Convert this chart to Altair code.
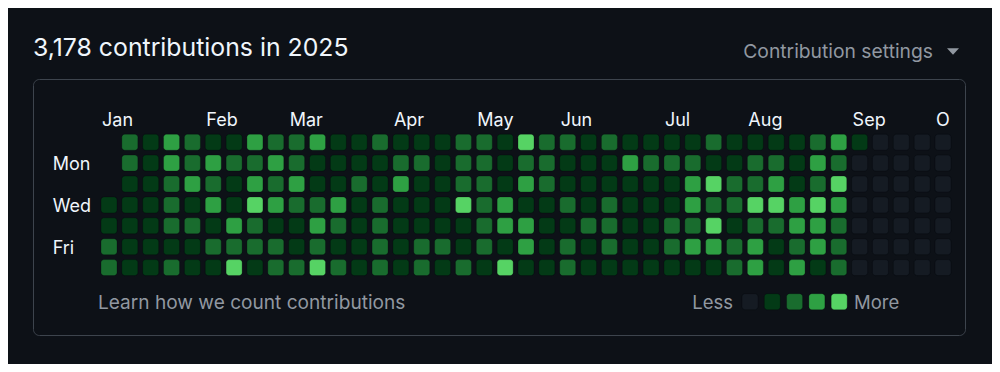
import altair as alt
import pandas as pd

# ---- data -------------------------------------------------------------
# contribution level per week column (0..40) for each weekday row; -1 = no day
SUN = [-1, 2, 1, 3, 2, 1, 1, 3, 2, 2, 3, 1, 1, 2, 1, 1, 1, 2, 2, 1, 4, 2, 2, 1, 2, 1, 1, 1, 1, 2, 1, 1, 1, 1, 2, 3, 1, 0, 0, 0, 0]
MON = [-1, 2, 1, 3, 2, 3, 2, 2, 3, 2, 1, 1, 1, 1, 2, 2, 1, 2, 2, 1, 2, 2, 1, 1, 1, 3, 2, 2, 2, 1, 1, 2, 2, 1, 3, 2, 0, 0, 0, 0, 0]
TUE = [-1, 1, 1, 2, 3, 2, 1, 3, 2, 3, 1, 1, 2, 1, 3, 1, 1, 2, 2, 1, 3, 2, 1, 1, 1, 1, 1, 1, 3, 4, 2, 2, 3, 1, 2, 4, 0, 0, 0, 0, 0]
WED = [1, 1, 1, 2, 1, 3, 1, 4, 3, 2, 2, 3, 1, 2, 1, 1, 1, 4, 2, 3, 1, 1, 2, 1, 2, 1, 1, 1, 3, 2, 2, 4, 4, 3, 4, 3, 0, 0, 0, 0, 0]
THU = [1, 1, 1, 2, 2, 1, 3, 2, 1, 1, 3, 2, 1, 2, 1, 1, 1, 1, 2, 3, 3, 1, 1, 2, 2, 1, 1, 2, 2, 4, 1, 2, 2, 3, 3, 2, 0, 0, 0, 0, 0]
FRI = [2, 1, 1, 1, 1, 2, 2, 2, 2, 1, 2, 1, 1, 2, 1, 2, 2, 1, 2, 1, 3, 1, 2, 1, 2, 1, 1, 2, 3, 3, 2, 3, 1, 2, 3, 2, 0, 0, 0, 0, 0]
SAT = [2, 1, 1, 2, 1, 1, 4, 1, 2, 2, 4, 2, 1, 2, 1, 2, 1, 2, 1, 4, 1, 1, 2, 1, 1, 1, 1, 1, 1, 1, 2, 3, 1, 3, 1, 2, 0, 0, 0, 0, 0]
ROWS = [SUN, MON, TUE, WED, THU, FRI, SAT]

MONTHS = ["Jan", "Feb", "Mar", "Apr", "May", "Jun", "Jul", "Aug", "Sep", "O"]
MONTH_WEEKS = [0, 5, 9, 14, 18, 22, 27, 31, 36, 40]

DAY_LABELS = ["Mon", "Wed", "Fri"]
DAY_INDEX = [1, 3, 5]

LEVELS = [0, 1, 2, 3, 4]

TITLE = "3,178 contributions in 2025"

# ---- styles -----------------------------------------------------------
COLORS = ["#151b23", "#033a16", "#196c2e", "#2ea043", "#56d364"]
BG = "#0d1117"
FG = "#f0f6fc"
MUTED = "#9198a1"
FONT = "Inter"

records = []
for d, row in enumerate(ROWS):
    for w, lv in enumerate(row):
        records.append({"week": w, "day": d, "level": lv})
cells_df = pd.DataFrame(records)

XS = alt.Scale(domain=[-3.645, 41.055], nice=False, zero=False)
YS = alt.Scale(domain=[-3.024, 9.225], nice=False, zero=False, reverse=True)
CS = alt.Scale(domain=LEVELS, range=COLORS)

cells = (
    alt.Chart(cells_df)
    .transform_filter("datum.level >= 0")
    .transform_calculate(
        x1="datum.week - 0.384", x2="datum.week + 0.384",
        y1="datum.day - 0.383", y2="datum.day + 0.383",
    )
    .mark_rect(cornerRadius=3, stroke="#010409", strokeOpacity=0.25, strokeWidth=1)
    .encode(
        x=alt.X("x1:Q", scale=XS, axis=None),
        x2="x2:Q",
        y=alt.Y("y1:Q", scale=YS, axis=None),
        y2="y2:Q",
        color=alt.Color("level:O", scale=CS, legend=None),
    )
)

legend_cells = (
    alt.Chart(pd.DataFrame({"level": LEVELS}))
    .transform_calculate(
        x1="30.743 + datum.level * 1.0695 - 0.384",
        x2="30.743 + datum.level * 1.0695 + 0.384",
        y1="7.632 - 0.383", y2="7.632 + 0.383",
    )
    .mark_rect(cornerRadius=3, stroke="#010409", strokeOpacity=0.25, strokeWidth=1)
    .encode(
        x=alt.X("x1:Q", scale=XS, axis=None),
        x2="x2:Q",
        y=alt.Y("y1:Q", scale=YS, axis=None),
        y2="y2:Q",
        color=alt.Color("level:O", scale=CS, legend=None),
    )
)

month_labels = (
    alt.Chart(pd.DataFrame({"month": MONTHS, "week": MONTH_WEEKS}))
    .mark_text(align="left", baseline="alphabetic", dx=-7, fontSize=18, color=FG, font=FONT)
    .encode(x=alt.X("week:Q", scale=XS, axis=None), y=alt.value(47), text="month:N")
)

day_labels = (
    alt.Chart(pd.DataFrame({"label": DAY_LABELS, "day": DAY_INDEX}))
    .mark_text(align="left", baseline="alphabetic", dy=7, fontSize=18, color=FG, font=FONT)
    .encode(x=alt.value(19.7), y=alt.Y("day:Q", scale=YS, axis=None), text="label:N")
)


def label(text, x, y, align, size, color):
    return (
        alt.Chart(pd.DataFrame({"t": [text]}))
        .mark_text(align=align, baseline="alphabetic", fontSize=size, color=color, font=FONT)
        .encode(x=alt.value(x), y=alt.value(y), text="t:N")
    )


title = label(TITLE, 0, -23, "left", 24.8, FG)
settings = label("Contribution settings", 900, -21, "right", 19.3, MUTED)
caret = (
    alt.Chart(pd.DataFrame({"t": [1]}))
    .mark_point(shape="M-1,-0.55L1,-0.55L0,0.55Z", filled=True, size=144, color=MUTED, opacity=1)
    .encode(x=alt.value(920), y=alt.value(-27.5))
)
learn = label("Learn how we count contributions", 65, 229.5, "left", 19.1, MUTED)
less = label("Less", 700, 229.5, "right", 18.5, MUTED)
more = label("More", 821, 229.5, "left", 18.5, MUTED)

chart = (
    alt.layer(cells, legend_cells, month_labels, day_labels, title, settings, caret, learn, less, more)
    .properties(
        width=932,
        height=256,
        background=BG,
        padding={"left": 25, "top": 71, "right": 27, "bottom": 29},
        autosize=alt.AutoSizeParams(type="none"),
    )
    .configure_view(stroke="#3d444d", strokeWidth=1, cornerRadius=6, fill=BG)
)

chart.save("out.html", embed_options={"renderer": "svg", "actions": False})
